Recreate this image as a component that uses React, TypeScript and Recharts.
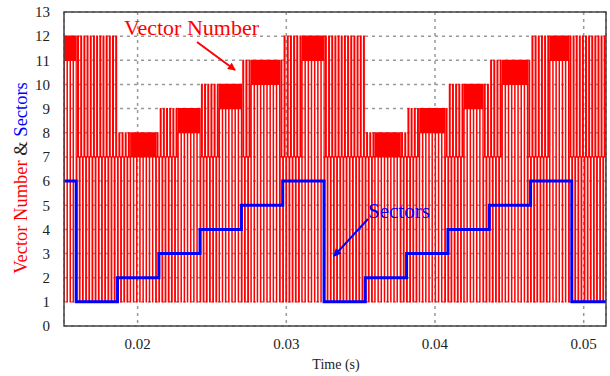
import React from 'react'
import { LineChart, Line, XAxis, YAxis, CartesianGrid } from 'recharts'

// sector boundaries (s), plus the domain ends
const sectorEdges = [
  0.01505, 0.01587, 0.01865, 0.02143, 0.0242, 0.02698, 0.02976, 0.03254, 0.03531, 0.03809,
  0.04087, 0.04365, 0.04643, 0.0492, 0.0515,
]
const sectorNumbers = [6, 1, 2, 3, 4, 5, 6, 1, 2, 3, 4, 5, 6, 1]
// active vectors used in each sector
const vectorLow = [11, 12, 7, 8, 9, 10, 11, 12, 7, 8, 9, 10, 11, 12]
const vectorHigh = [12, 12, 8, 9, 10, 11, 12, 12, 8, 9, 10, 11, 12, 12]
// share of each sector where the vector toggles fast between low and high
const denseFrom = [0, 1, 0.33, 0.45, 0.43, 0.26, 0.47, 1, 0.22, 0.31, 0.37, 0.29, 0.45, 1]
const denseTo = [1, 1, 0.93, 1, 1, 0.9, 1, 1, 0.88, 0.9, 0.83, 0.9, 0.95, 1]
const switchPeriod = 0.00021

// one switching cycle: where each state starts (share of cycle) and which state
const normalSteps = [0, 0.2, 0.45, 0.7]
const normalLevels = ['one', 'seven', 'high', 'seven']
const denseSteps = [0, 0.1, 0.15, 0.2, 0.25, 0.3, 0.35, 0.4, 0.45, 0.5, 0.55, 0.6, 0.65, 0.7, 0.75, 0.8, 0.85, 0.9, 0.95]
const denseLevels = [
  'one', 'low', 'high', 'low', 'high', 'low', 'high', 'low', 'high', 'low',
  'high', 'low', 'high', 'low', 'high', 'low', 'high', 'low', 'high',
]

const xTicks = [0.02, 0.03, 0.04, 0.05]
const yTicks = [0, 1, 2, 3, 4, 5, 6, 7, 8, 9, 10, 11, 12, 13]

const vectorData: { t: number; v: number }[] = []
sectorNumbers.forEach((_, i) => {
  const t0 = sectorEdges[i]
  const t1 = sectorEdges[i + 1]
  const n = Math.max(1, Math.round((t1 - t0) / switchPeriod))
  const dt = (t1 - t0) / n
  for (let c = 0; c < n; c++) {
    const f = (c + 0.5) / n
    const dense = f >= denseFrom[i] && f <= denseTo[i]
    const steps = dense ? denseSteps : normalSteps
    const levels = dense ? denseLevels : normalLevels
    steps.forEach((s, k) => {
      const lv = levels[k]
      const v = lv === 'one' ? 1 : lv === 'seven' ? 7 : lv === 'low' ? vectorLow[i] : vectorHigh[i]
      vectorData.push({ t: t0 + (c + s) * dt, v })
    })
  }
})
vectorData.push({ t: sectorEdges[sectorEdges.length - 1], v: 1 })

const sectorData = sectorNumbers.map((s, i) => ({ t: sectorEdges[i], s }))
sectorData.push({ t: sectorEdges[sectorEdges.length - 1], s: sectorNumbers[sectorNumbers.length - 1] })

const font = 'Liberation Serif, serif'

export default function App() {
  return (
    <div style={{ position: 'absolute', left: 0, top: 0, width: 610, height: 376, background: '#fff', fontFamily: font }}>
      <LineChart width={610} height={376} margin={{ top: 12, right: 4, left: 0, bottom: 0 }}>
        <XAxis
          type="number"
          dataKey="t"
          domain={[0.01505, 0.0515]}
          allowDataOverflow
          ticks={xTicks}
          tickFormatter={(v) => String(v)}
          tick={{ fill: '#222', fontSize: 15, fontFamily: font }}
          tickLine={false}
          tickSize={6}
          tickMargin={6}
          axisLine={false}
          height={50}
        />
        <YAxis
          type="number"
          domain={[0, 13]}
          ticks={yTicks}
          interval={0}
          tick={{ fill: '#222', fontSize: 15, fontFamily: font }}
          tickLine={false}
          tickSize={6}
          tickMargin={8}
          axisLine={false}
          width={64}
        />
        <Line
          data={vectorData}
          dataKey="v"
          type="stepAfter"
          stroke="#ff0000"
          strokeWidth={1.2}
          dot={false}
          isAnimationActive={false}
        />
        <Line
          data={sectorData}
          dataKey="s"
          type="stepAfter"
          stroke="#0000ff"
          strokeWidth={3}
          dot={false}
          isAnimationActive={false}
        />
        <CartesianGrid stroke="#999" strokeWidth={1.5} strokeDasharray="3 4" />
      </LineChart>
      <svg
        width={610}
        height={376}
        style={{ position: 'absolute', left: 0, top: 0, pointerEvents: 'none', fontFamily: font }}
      >
        <defs>
          <marker id="redHead" markerWidth="8" markerHeight="8" refX="7" refY="4" orient="auto" markerUnits="userSpaceOnUse">
            <path d="M0,0 L8,4 L0,8 Z" fill="#ff0000" />
          </marker>
          <marker id="blueHead" markerWidth="8" markerHeight="8" refX="7" refY="4" orient="auto" markerUnits="userSpaceOnUse">
            <path d="M0,0 L8,4 L0,8 Z" fill="#0000ff" />
          </marker>
        </defs>
        <rect x={64} y={12} width={542} height={314} fill="none" stroke="#444" strokeWidth={1.5} />
        <text x={124} y={35} fontSize={22} fill="#ff0000">Vector Number</text>
        <line x1={197} y1={42} x2={235} y2={70} stroke="#ff0000" strokeWidth={2} markerEnd="url(#redHead)" />
        <text x={368} y={218} fontSize={21} fill="#0000ff">Sectors</text>
        <line x1={368} y1={219} x2={334} y2={256} stroke="#0000ff" strokeWidth={2} markerEnd="url(#blueHead)" />
        <text x={336} y={369} fontSize={14} fill="#222" textAnchor="middle">Time (s)</text>
        <text transform="translate(27,178) rotate(-90)" fontSize={18.5} textAnchor="middle">
          <tspan fill="#ff0000">Vector Number</tspan>
          <tspan fill="#222"> &amp; </tspan>
          <tspan fill="#0000ff">Sectors</tspan>
        </text>
      </svg>
    </div>
  )
}
